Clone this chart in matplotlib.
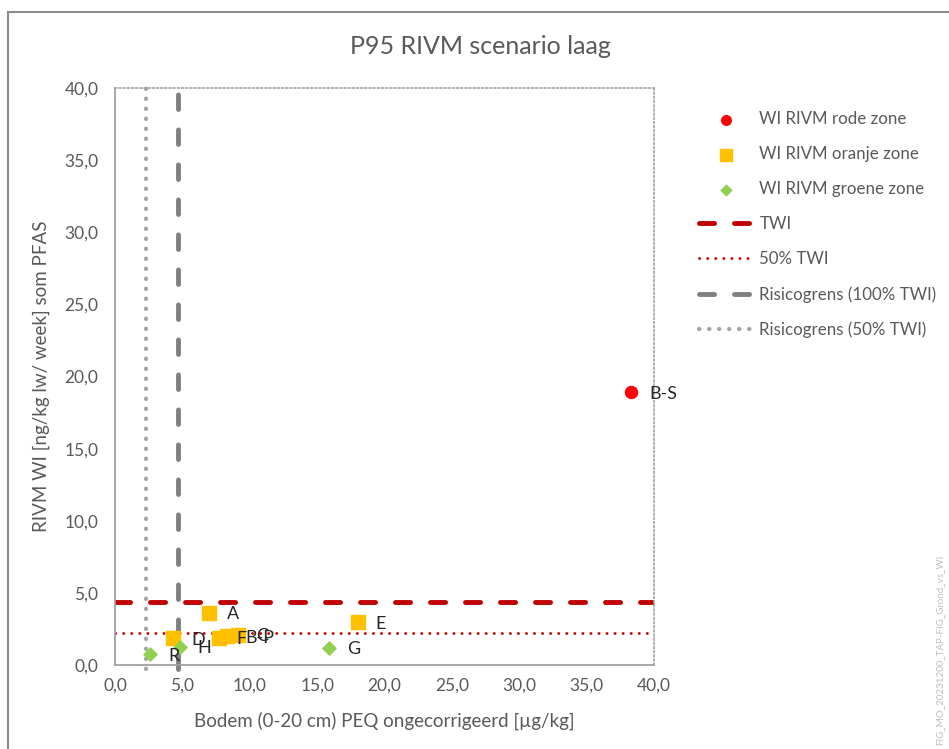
import matplotlib
matplotlib.use("Agg")
import matplotlib.pyplot as plt
from matplotlib.patches import Rectangle

plt.rcParams['font.family'] = ['Lato', 'DejaVu Sans']

# data
red_labels = ["B-S"]
red_x = [38.3]
red_y = [18.9]

orange_labels = ["A", "E", "D", "F", "B-P", "C"]
orange_x = [7.0, 18.0, 4.3, 7.7, 8.3, 9.1]
orange_y = [3.6, 2.95, 1.85, 1.9, 2.0, 2.1]

green_labels = ["R", "H", "G"]
green_x = [2.6, 4.8, 15.9]
green_y = [0.75, 1.25, 1.2]

twi = 4.4
twi_50 = 2.2
risk_100 = 4.7
risk_50 = 2.3

ticks = [0, 5, 10, 15, 20, 25, 30, 35, 40]
tick_labels = ["0,0", "5,0", "10,0", "15,0", "20,0", "25,0", "30,0", "35,0", "40,0"]

fig = plt.figure(figsize=(9.49, 7.49), dpi=100)
ax = fig.add_axes([115/949, 84/749, 539/949, 577/749])

txt = '#595959'
long_dash = (3.1, 4.1)

# outer chart border
fig.patches.append(Rectangle((8/949, -0.2), 1.2, 0.2 + (1 - 12/749), transform=fig.transFigure,
                             fill=False, edgecolor='#8c8c8c', lw=1.5, clip_on=False))

ax.scatter(red_x, red_y, marker='o', s=75, color='#FF0000', zorder=5, label='WI RIVM rode zone')
ax.scatter(orange_x, orange_y, marker='s', s=110, color='#FFC000', zorder=4, label='WI RIVM oranje zone')
ax.scatter(green_x, green_y, marker='D', s=45, color='#92D050', zorder=4, label='WI RIVM groene zone')

l1, = ax.plot([0, 40], [twi, twi], color='#C00000', lw=3.5, dash_capstyle='round', label='TWI')
l1.set_dashes(long_dash)
ax.plot([0, 40], [twi_50, twi_50], color='#C00000', lw=2, linestyle=(0, (0.1, 2.8)),
        dash_capstyle='round', label='50% TWI')
l3, = ax.plot([risk_100, risk_100], [-0.3, 40], color='#808080', lw=3.5, dash_capstyle='round',
              clip_on=False, label='Risicogrens (100% TWI)')
l3.set_dashes((3.0, 4.2))
ax.plot([risk_50, risk_50], [-0.3, 40], color='#A6A6A6', lw=3, linestyle=(0, (0.1, 2.3)),
        dash_capstyle='round', clip_on=False, label='Risicogrens (50% TWI)')

for names, xs, ys in [(red_labels, red_x, red_y), (orange_labels, orange_x, orange_y),
                      (green_labels, green_x, green_y)]:
    for n, x, y in zip(names, xs, ys):
        ax.annotate(n, (x, y), xytext=(13, -1), textcoords='offset points',
                    ha='left', va='center', fontsize=13, color='#262626', zorder=6)

ax.set_xlim(0, 40)
ax.set_ylim(0, 40)
ax.set_xticks(ticks)
ax.set_xticklabels(tick_labels)
ax.set_yticks(ticks)
ax.set_yticklabels(tick_labels)
ax.tick_params(length=0, labelsize=12.5, colors=txt)
ax.tick_params(axis='y', pad=12)
ax.tick_params(axis='x', pad=9)

for s in ['left', 'bottom']:
    ax.spines[s].set_color('#A0A0A0')
    ax.spines[s].set_linewidth(1.3)
for s in ['top', 'right']:
    ax.spines[s].set_color('#A6A6A6')
    ax.spines[s].set_linewidth(1.2)
    ax.spines[s].set_linestyle((0, (1, 1.5)))

ax.set_xlabel("Bodem (0-20 cm) PEQ ongecorrigeerd [µg/kg]", fontsize=13.5, color=txt, labelpad=13)
ax.set_ylabel("RIVM WI [ng/kg lw/ week] som PFAS", fontsize=13.5, color=txt, labelpad=10)
fig.text(480/949, 1 - 47/749, "P95 RIVM scenario laag", ha='center', va='center', fontsize=18, color=txt)

leg = fig.legend(loc='upper left', bbox_to_anchor=(684/949, 1 - 96/749), frameon=False, fontsize=12.2,
                 labelcolor=txt, handlelength=3.2, labelspacing=1.12, handletextpad=0.35,
                 markerscale=0.8, scatterpoints=1)
handles = leg.legend_handles
handles[3].set_dashes(long_dash)
handles[5].set_dashes(long_dash)

fig.text(940/949, 0.005, "FIG_MO_20231200_TAP-FIG_Grond_vs_WI", rotation=90, ha='center', va='bottom',
         fontsize=7, color='#BFBFBF')

fig.savefig("out.png", dpi=100)
